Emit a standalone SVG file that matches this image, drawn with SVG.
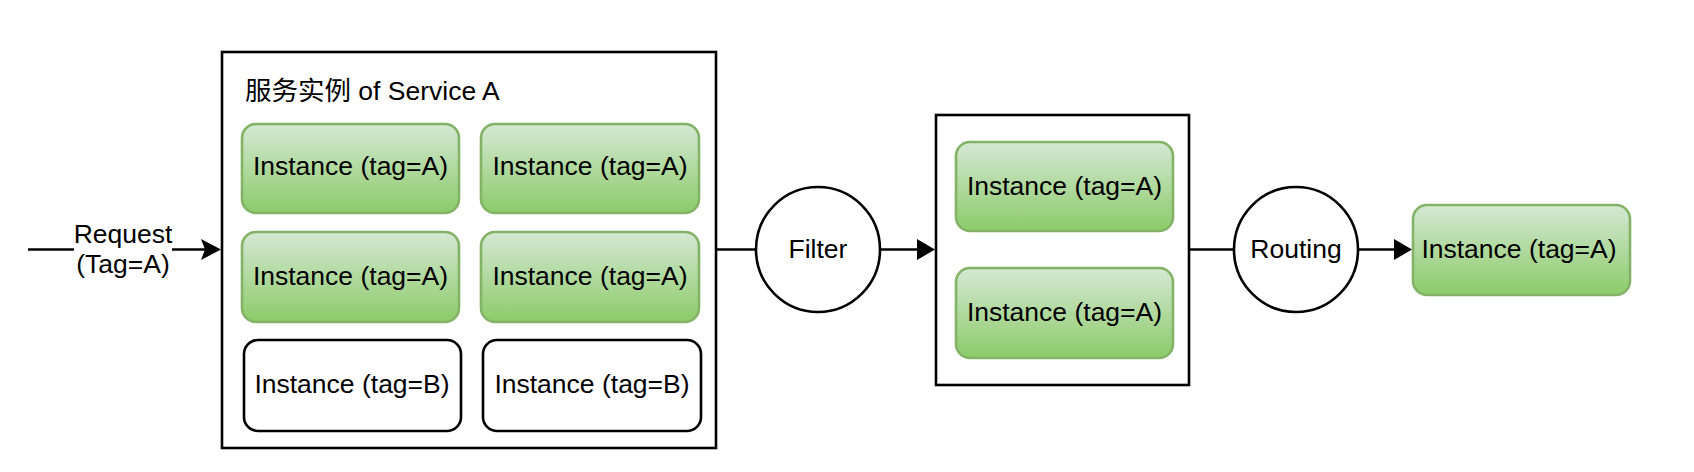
<svg xmlns="http://www.w3.org/2000/svg" width="1694" height="472" viewBox="0 0 1694 472">
  <style>
    text { font-family: "Liberation Sans", Arial, Helvetica, "Noto Sans CJK SC", sans-serif; font-size: 26.5px; fill: #000; }
    .c { text-anchor: middle; }
    .frame { fill: #fff; stroke: #000; stroke-width: 2.6; }
    .green { fill: url(#gg); stroke: #82b366; stroke-width: 2.6; }
    .white { fill: #fff; stroke: #000; stroke-width: 2.6; }
    .circ { fill: #fff; stroke: #000; stroke-width: 2.6; }
    .edge { fill: none; stroke: #000; stroke-width: 2.6; }
  </style>
  <defs>
    <linearGradient id="gg" x1="0" y1="0" x2="0" y2="1">
      <stop offset="0" stop-color="#d5e8d4"/>
      <stop offset="1" stop-color="#8ccb69"/>
    </linearGradient>
    <marker id="classic" markerUnits="userSpaceOnUse" markerWidth="22" markerHeight="22" refX="4" refY="10.5" orient="auto" overflow="visible">
      <path d="M0,0 L20,10.5 L0,21 L4,10.5 Z" fill="#000"/>
    </marker>
    <marker id="block" markerUnits="userSpaceOnUse" markerWidth="22" markerHeight="22" refX="0" refY="10.5" orient="auto" overflow="visible">
      <path d="M0,0 L18,10.5 L0,21 Z" fill="#000"/>
    </marker>
  </defs>
  <rect width="1694" height="472" fill="#fff"/>

  <g id="service-a">
    <rect class="frame" x="222" y="52" width="494" height="396"/>
    <text x="245" y="100">服务实例 of Service A</text>
  </g>
  <g id="inst-a1">
    <rect class="green" x="242" y="124" width="217" height="89" rx="14"/>
    <text class="c" x="350.5" y="175">Instance (tag=A)</text>
  </g>
  <g id="inst-a2">
    <rect class="green" x="481" y="124" width="218" height="89" rx="14"/>
    <text class="c" x="590" y="175">Instance (tag=A)</text>
  </g>
  <g id="inst-a3">
    <rect class="green" x="242" y="232" width="217" height="90" rx="14"/>
    <text class="c" x="350.5" y="285">Instance (tag=A)</text>
  </g>
  <g id="inst-a4">
    <rect class="green" x="481" y="232" width="218" height="90" rx="14"/>
    <text class="c" x="590" y="285">Instance (tag=A)</text>
  </g>
  <g id="inst-b1">
    <rect class="white" x="244" y="340" width="217" height="91" rx="14"/>
    <text class="c" x="352" y="393">Instance (tag=B)</text>
  </g>
  <g id="inst-b2">
    <rect class="white" x="483" y="340" width="218" height="91" rx="14"/>
    <text class="c" x="592" y="393">Instance (tag=B)</text>
  </g>

  <g id="filter">
    <ellipse class="circ" cx="818" cy="249.5" rx="62" ry="62.5"/>
    <text class="c" x="818" y="257.5">Filter</text>
  </g>

  <g id="filtered">
    <rect class="frame" x="936" y="115" width="253" height="270"/>
  </g>
  <g id="inst-f1">
    <rect class="green" x="956" y="142" width="217" height="89" rx="14"/>
    <text class="c" x="1064.5" y="195">Instance (tag=A)</text>
  </g>
  <g id="inst-f2">
    <rect class="green" x="956" y="268" width="217" height="90" rx="14"/>
    <text class="c" x="1064.5" y="321">Instance (tag=A)</text>
  </g>

  <g id="routing">
    <ellipse class="circ" cx="1296" cy="249.5" rx="62" ry="62.5"/>
    <text class="c" x="1296" y="257.5">Routing</text>
  </g>

  <g id="inst-final">
    <rect class="green" x="1413" y="205" width="217" height="90" rx="14"/>
    <text class="c" x="1519" y="258">Instance (tag=A)</text>
  </g>

  <g id="connectors">
    <path class="edge" d="M28,249.5 H205" marker-end="url(#classic)"/>
    <rect x="74" y="223" width="98" height="57" fill="#fff"/>
    <text class="c" x="123" y="243">Request</text>
    <text class="c" x="123" y="272.5">(Tag=A)</text>
    <path class="edge" d="M717,249.5 H756"/>
    <path class="edge" d="M880,249.5 H917" marker-end="url(#block)"/>
    <path class="edge" d="M1190,249.5 H1234"/>
    <path class="edge" d="M1358,249.5 H1394" marker-end="url(#block)"/>
  </g>
</svg>
